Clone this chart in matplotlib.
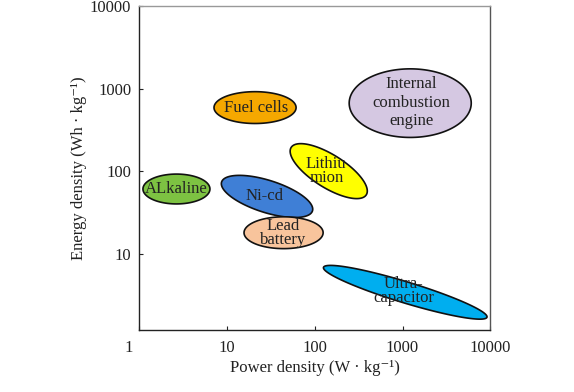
import numpy as np
import matplotlib
matplotlib.use("Agg")
import matplotlib.pyplot as plt
import matplotlib.transforms as mtransforms

# Technology regions (centres in W/kg and Wh/kg, extents in decades, tilt in degrees)
names = ["Fuel cells", "Internal\ncombustion\nengine", "Lithiu\nmion", "ALkaline",
         "Ni-cd", "Lead\nbattery", "Ultra-\ncapacitor"]
power_center = [20.8, 1224, 144, 2.64, 28.5, 44, 1074]
energy_center = [590, 668, 100, 60.7, 49.3, 17.9, 3.39]
half_major = [0.468, 0.696, 0.516, 0.382, 0.547, 0.451, 0.98]
half_minor = [0.193, 0.416, 0.196, 0.181, 0.194, 0.193, 0.127]
tilt = [0, 0, -34.4, 0, -19, 0, -18]
colors = ["#F5A800", "#D5C8E2", "#FFFF00", "#7DC242", "#3F7FD6", "#F8C49C", "#00AEEF"]
label_power = [21.5, 1260, 135, 2.64, 26.5, 44, 1030]
label_energy = [590, 680, 100, 60.7, 49.3, 17.9, 3.5]

ticks = [1, 10, 100, 1000, 10000]
tick_labels = ["1", "10", "100", "1000", "10000"]

plt.rcParams['font.family'] = ['Liberation Serif', 'DejaVu Serif']

fig = plt.figure(figsize=(5.74, 3.92), dpi=100)
ax = fig.add_axes([0.243, 0.158, 0.611, 0.826])
ax.set_xscale('log')
ax.set_yscale('log')
ax.set_xlim(1, 10000)
ax.set_ylim(1.18, 10000)

t = np.linspace(0, 2 * np.pi, 300)
for i in range(len(names)):
    th = np.deg2rad(tilt[i])
    cx, cy = np.log10(power_center[i]), np.log10(energy_center[i])
    a, b = half_major[i], half_minor[i]
    lx = cx + a * np.cos(t) * np.cos(th) - b * np.sin(t) * np.sin(th)
    ly = cy + a * np.cos(t) * np.sin(th) + b * np.sin(t) * np.cos(th)
    ax.fill(10 ** lx, 10 ** ly, facecolor=colors[i], edgecolor='#111111', lw=1.2, zorder=2)
    ls = 1.2 if i == 1 else 0.85
    ax.text(label_power[i], label_energy[i], names[i], ha='center', va='center',
            fontsize=12, color='#222222', linespacing=ls, zorder=3)

ax.set_xticks(ticks)
ax.set_xticklabels(tick_labels)
ax.set_yticks(ticks[1:])
ax.set_yticklabels(tick_labels[1:])
ax.minorticks_off()
ax.tick_params(direction='in', length=3, labelsize=12, colors='#222222', pad=7)
ax.tick_params(axis='y', pad=6)
# corner "1" label sits slightly left of the spine
shift = mtransforms.ScaledTranslation(-11 / 100, 0, fig.dpi_scale_trans)
for lab in ax.get_xticklabels():
    if lab.get_text() == "1":
        lab.set_transform(lab.get_transform() + shift)
for sp in ax.spines.values():
    sp.set_color('#222222')
    sp.set_linewidth(1.0)
ax.spines['top'].set_color('#999999')
ax.spines['right'].set_color('#555555')

ax.set_xlabel("Power density (W · kg⁻¹)", fontsize=12, color='#222222', labelpad=3)
ax.set_ylabel("Energy density (Wh · kg⁻¹)", fontsize=12, color='#222222', labelpad=2)

fig.savefig("out.png", dpi=100)
